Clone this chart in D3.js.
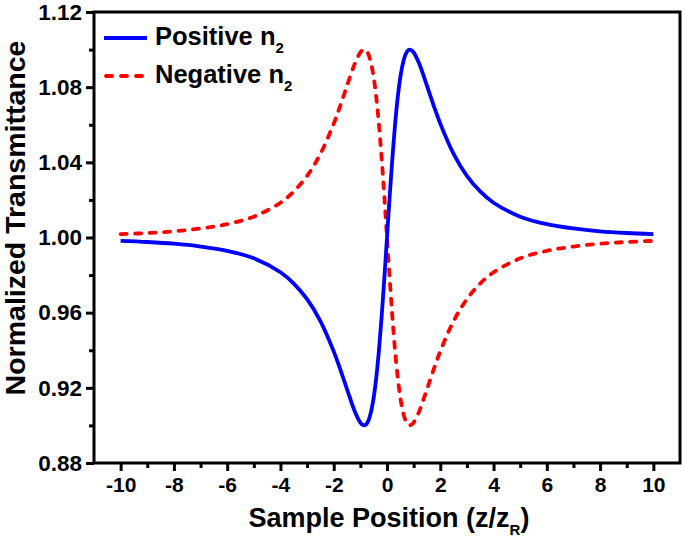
<!DOCTYPE html>
<html>
<head>
<meta charset="utf-8">
<script src="https://cdn.jsdelivr.net/npm/d3@7"></script>
<style>
  html, body { margin: 0; padding: 0; background: #fff; }
  svg { display: block; font-family: "Liberation Sans", Arial, sans-serif; font-weight: bold; }
</style>
</head>
<body>
<svg id="chart" width="685" height="537"></svg>
<script>
// ---- data ----
const zPositions = [-10, -9, -8, -7, -6, -5, -4, -3.5, -3, -2.5, -2, -1.8, -1.6, -1.4, -1.2, -1.0,
  -0.9, -0.8, -0.7, -0.6, -0.5, -0.4, -0.3, -0.2, -0.1, 0,
  0.1, 0.2, 0.3, 0.4, 0.5, 0.6, 0.7, 0.8, 0.9, 1.0,
  1.2, 1.4, 1.6, 1.8, 2, 2.5, 3, 3.5, 4, 5, 6, 7, 8, 9, 10];
const positiveN2 = [0.9982, 0.9976, 0.9967, 0.9952, 0.9929, 0.9889, 0.9815, 0.9755, 0.9672, 0.9555, 0.9394, 0.9317, 0.9234, 0.9150, 0.9072, 0.9015,
  0.9002, 0.9003, 0.9025, 0.9072, 0.9148, 0.9258, 0.9403, 0.9581, 0.9783, 1.0000,
  1.0217, 1.0419, 1.0597, 1.0742, 1.0852, 1.0928, 1.0975, 1.0997, 1.0998, 1.0985,
  1.0928, 1.0850, 1.0766, 1.0683, 1.0606, 1.0445, 1.0328, 1.0245, 1.0185, 1.0111, 1.0071, 1.0048, 1.0033, 1.0024, 1.0018];
const negativeN2 = [1.0018, 1.0024, 1.0033, 1.0048, 1.0071, 1.0111, 1.0185, 1.0245, 1.0328, 1.0445, 1.0606, 1.0683, 1.0766, 1.0850, 1.0928, 1.0985,
  1.0998, 1.0997, 1.0975, 1.0928, 1.0852, 1.0742, 1.0597, 1.0419, 1.0217, 1.0000,
  0.9783, 0.9581, 0.9403, 0.9258, 0.9148, 0.9072, 0.9025, 0.9003, 0.9002, 0.9015,
  0.9072, 0.9150, 0.9234, 0.9317, 0.9394, 0.9555, 0.9672, 0.9755, 0.9815, 0.9889, 0.9929, 0.9952, 0.9967, 0.9976, 0.9982];
const xTicks = [-10, -8, -6, -4, -2, 0, 2, 4, 6, 8, 10];
const xMinorTicks = [-9, -7, -5, -3, -1, 1, 3, 5, 7, 9];
const yTicks = [0.88, 0.92, 0.96, 1.00, 1.04, 1.08, 1.12];
const yMinorTicks = [0.90, 0.94, 0.98, 1.02, 1.06, 1.10];
const seriesNames = ["Positive n", "Negative n"];
const xTitle = "Sample Position (z/z";
const yTitle = "Normalized Transmittance";

// ---- layout ----
const svg = d3.select("#chart");
const mLeft = 94, mRight = 680, mTop = 12, mBottom = 463;
const x = d3.scaleLinear().domain([-11, 11]).range([mLeft, mRight]);
const y = d3.scaleLinear().domain([0.88, 1.12]).range([mBottom, mTop]);

const line = d3.line().x(d => x(d[0])).y(d => y(d[1])).curve(d3.curveCatmullRom.alpha(0.5));
const blueData = zPositions.map((z, i) => [z, positiveN2[i]]);
const redData = zPositions.map((z, i) => [z, negativeN2[i]]);

svg.append("path").datum(redData).attr("d", line)
  .attr("fill", "none").attr("stroke", "#ff0000").attr("stroke-width", 3.8)
  .attr("stroke-linecap", "round").attr("stroke-dasharray", "6,8.5");
svg.append("path").datum(blueData).attr("d", line)
  .attr("fill", "none").attr("stroke", "#0000ff").attr("stroke-width", 3.8)
  .attr("stroke-linejoin", "round");

// frame
svg.append("rect").attr("x", mLeft).attr("y", mTop).attr("width", mRight - mLeft).attr("height", mBottom - mTop)
  .attr("fill", "none").attr("stroke", "#000").attr("stroke-width", 3);

// x axis
const xAxis = d3.axisBottom(x).tickValues(xTicks).tickSize(8).tickPadding(6).tickFormat(d3.format("d"));
const gx = svg.append("g").attr("transform", `translate(0,${mBottom})`).call(xAxis);
gx.select(".domain").remove();
gx.selectAll(".tick line").attr("stroke", "#000").attr("stroke-width", 3);
gx.selectAll(".tick text").attr("font-size", 21).attr("font-weight", "bold")
  .attr("font-family", "Liberation Sans, Arial, sans-serif").attr("fill", "#000")
  .text(d => d < 0 ? "-" + Math.abs(d) : String(d));
const xAxisMinor = d3.axisBottom(x).tickValues(xMinorTicks).tickSize(5).tickFormat("");
const gxm = svg.append("g").attr("transform", `translate(0,${mBottom})`).call(xAxisMinor);
gxm.select(".domain").remove();
gxm.selectAll(".tick line").attr("stroke", "#000").attr("stroke-width", 3);

// y axis
const yAxis = d3.axisLeft(y).tickValues(yTicks).tickSize(8).tickPadding(4).tickFormat(d3.format(".2f"));
const gy = svg.append("g").attr("transform", `translate(${mLeft},0)`).call(yAxis);
gy.select(".domain").remove();
gy.selectAll(".tick line").attr("stroke", "#000").attr("stroke-width", 3);
gy.selectAll(".tick text").attr("font-size", 22.5).attr("font-weight", "bold")
  .attr("font-family", "Liberation Sans, Arial, sans-serif").attr("fill", "#000");
const yAxisMinor = d3.axisLeft(y).tickValues(yMinorTicks).tickSize(5).tickFormat("");
const gym = svg.append("g").attr("transform", `translate(${mLeft},0)`).call(yAxisMinor);
gym.select(".domain").remove();
gym.selectAll(".tick line").attr("stroke", "#000").attr("stroke-width", 3);

// axis titles
const xt = svg.append("text").attr("x", 389).attr("y", 527)
  .attr("text-anchor", "middle").attr("font-size", 27).attr("fill", "#000");
xt.append("tspan").text(xTitle);
xt.append("tspan").attr("font-size", 15).attr("dy", 8).text("R");
xt.append("tspan").attr("dy", -8).text(")");

svg.append("text").attr("transform", `translate(25,218) rotate(-90)`)
  .attr("text-anchor", "middle").attr("font-size", 28.5).attr("fill", "#000").text(yTitle);

// legend
const legend = svg.append("g");
const legendRows = [
  { name: seriesNames[0], color: "#0000ff", dash: null, ly: 38, by: 45 },
  { name: seriesNames[1], color: "#ff0000", dash: "6,9", ly: 76, by: 83 }
];
legendRows.forEach(r => {
  const l = legend.append("line").attr("x1", 104).attr("x2", 147).attr("y1", r.ly).attr("y2", r.ly)
    .attr("stroke", r.color).attr("stroke-width", 3.8);
  if (r.dash) l.attr("stroke-dasharray", r.dash).attr("stroke-linecap", "round").attr("x1", 106).attr("x2", 145);
  const t = legend.append("text").attr("x", 155).attr("y", r.by).attr("font-size", 25.5).attr("fill", "#000");
  t.append("tspan").text(r.name);
  t.append("tspan").attr("font-size", 15).attr("dy", 8).text("2");
});
</script>
</body>
</html>
